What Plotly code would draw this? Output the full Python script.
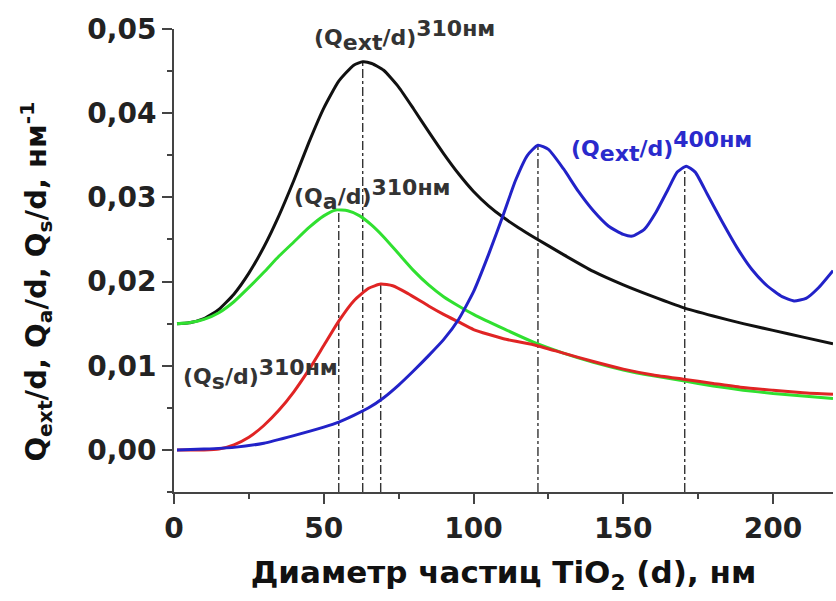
import plotly.graph_objects as go

# ---- data ----
d_ext310 = [1, 5, 10, 15, 20, 25, 30, 35, 40, 45, 50, 55, 60, 63, 66, 70, 75, 80, 85, 90, 95,
            100, 105, 110, 115, 120, 130, 140, 150, 160, 170, 180, 190, 200, 210, 220]
q_ext310 = [0.0150, 0.0151, 0.0156, 0.0167, 0.0185, 0.0210, 0.0241, 0.0278, 0.0320, 0.0365,
            0.0406, 0.0438, 0.0457, 0.0461, 0.0459, 0.0451, 0.0431, 0.0405, 0.0378, 0.0352,
            0.0328, 0.0307, 0.0290, 0.0276, 0.0264, 0.0253, 0.0232, 0.0212, 0.0196, 0.0182,
            0.0169, 0.0159, 0.0150, 0.0142, 0.0134, 0.0126]

d_a310 = [1, 5, 10, 15, 20, 25, 30, 35, 40, 45, 50, 54, 58, 62, 66, 70, 75, 80, 85, 90, 95,
          100, 110, 120, 130, 140, 150, 160, 170, 180, 190, 200, 210, 220]
q_a310 = [0.0150, 0.0151, 0.0155, 0.0163, 0.0176, 0.0193, 0.0211, 0.0230, 0.0247, 0.0264,
          0.0278, 0.0285, 0.0284, 0.0278, 0.0267, 0.0253, 0.0233, 0.0213, 0.0196, 0.0182,
          0.0171, 0.0161, 0.0144, 0.0128, 0.0115, 0.0104, 0.0095, 0.0088, 0.0082, 0.0076,
          0.0071, 0.0067, 0.0064, 0.0061]

d_s310 = [1, 10, 15, 20, 25, 30, 35, 40, 45, 50, 55, 60, 65, 69, 73, 78, 85, 90, 95,
          100, 110, 120, 130, 140, 150, 160, 170, 180, 190, 200, 210, 220]
q_s310 = [0.0000, 0.0000, 0.0001, 0.0006, 0.0015, 0.0029, 0.0047, 0.0069, 0.0095, 0.0124,
          0.0153, 0.0177, 0.0192, 0.0197, 0.0195, 0.0186, 0.0171, 0.0161, 0.0152,
          0.0143, 0.0132, 0.0125, 0.0115, 0.0105, 0.0096, 0.0089, 0.0084, 0.0079, 0.0074,
          0.0071, 0.0068, 0.0066]

d_ext400 = [1, 10, 20, 30, 40, 50, 55, 60, 65, 70, 75, 80, 85, 90, 95, 100, 105, 110, 114,
            118, 121.5, 125, 130, 135, 140, 145, 150, 153, 157, 161, 165, 168, 171, 174,
            178, 183, 188, 193, 198, 203, 207, 211, 215, 220]
q_ext400 = [0.0000, 0.0001, 0.0003, 0.0008, 0.0017, 0.0027, 0.0033, 0.0041, 0.0050, 0.0062,
            0.0077, 0.0094, 0.0112, 0.0131, 0.0155, 0.0188, 0.0232, 0.0280, 0.0320,
            0.0350, 0.0362, 0.0357, 0.0334, 0.0307, 0.0284, 0.0266, 0.0256, 0.0254, 0.0262,
            0.0283, 0.0310, 0.0330, 0.0337, 0.0330, 0.0304, 0.0271, 0.0240, 0.0214, 0.0195,
            0.0182, 0.0177, 0.0180, 0.0192, 0.0213]

# peak markers (vertical dash-dot lines)
peak_d = [55, 63, 69, 121.5, 170.5]
peak_q = [0.0285, 0.0461, 0.0197, 0.0362, 0.0337]

x_ticks = [0, 50, 100, 150, 200]
y_ticks = [0.00, 0.01, 0.02, 0.03, 0.04, 0.05]

FONT = "DejaVu Sans"

fig = go.Figure()

y_bottom = -0.005
for pd_, pq in zip(peak_d, peak_q):
    fig.add_trace(go.Scatter(x=[pd_, pd_], y=[y_bottom, pq], mode="lines",
                             line=dict(color="#333333", width=1.4, dash="dashdot"),
                             hoverinfo="skip", showlegend=False))

series = [
    (d_ext310, q_ext310, "#111111"),
    (d_a310, q_a310, "#30e030"),
    (d_s310, q_s310, "#e02424"),
    (d_ext400, q_ext400, "#2222c8"),
]
for xs, ys, col in series:
    fig.add_trace(go.Scatter(x=xs, y=ys, mode="lines",
                             line=dict(color=col, width=3, shape="spline", smoothing=0.5),
                             showlegend=False))

def lab(name, sup, size=22):
    return ("(Q<sub><span style='font-size:%dpx'>%s</span></sub>/d)"
            "<sup><span style='font-size:%dpx'>%s</span></sup>") % (size, name, size, sup)

ann = [
    (46.2, 0.0492, lab("ext", "310нм"), "#333333"),
    (39.3, 0.0304, lab("a", "310нм"), "#333333"),
    (2.5, 0.0089, lab("s", "310нм"), "#333333"),
    (131.7, 0.0361, lab("ext", "400нм"), "#2a2acc"),
]
for ax_, ay_, txt, col in ann:
    fig.add_annotation(x=ax_, y=ay_, xref="x", yref="y", text=txt, showarrow=False,
                       xanchor="left", yanchor="middle",
                       font=dict(family=FONT, size=22, color=col, weight="bold"))

# y-axis title (as rotated annotation to match its vertical placement)
fig.add_annotation(xref="paper", yref="paper", x=-0.209, y=0.455,
                   text="Q<sub>ext</sub>/d, Q<sub>a</sub>/d, Q<sub>s</sub>/d, нм<sup>-1</sup>",
                   textangle=-90, showarrow=False, xanchor="center", yanchor="middle",
                   font=dict(family=FONT, size=29, color="#111111", weight="bold"))

axis_common = dict(
    showline=True, linecolor="#444444", linewidth=2,
    ticks="outside", ticklen=10, tickwidth=2, tickcolor="#444444",
    showgrid=False, zeroline=False, mirror=False,
    tickfont=dict(family=FONT, size=28, color="#222222", weight="bold"),
)

fig.update_xaxes(range=[0, 220], tickvals=x_ticks,
                 minor=dict(dtick=25, tick0=0, ticklen=5, tickwidth=2, tickcolor="#444444", ticks="outside"),
                 title=dict(text="Диаметр частиц TiO<sub>2</sub> (d), нм", standoff=18,
                            font=dict(family=FONT, size=31, color="#111111", weight="bold")),
                 **axis_common)
fig.update_yaxes(range=[-0.005, 0.05], tickvals=y_ticks, tickformat=".2f",
                 minor=dict(dtick=0.005, tick0=0, ticklen=5, tickwidth=2, tickcolor="#444444", ticks="outside"),
                 **axis_common)

fig.update_layout(
    width=836, height=601,
    margin=dict(l=174, r=3, t=29, b=109),
    paper_bgcolor="white", plot_bgcolor="white",
    separators=", ",
    showlegend=False,
)

fig.write_html("out.html")
